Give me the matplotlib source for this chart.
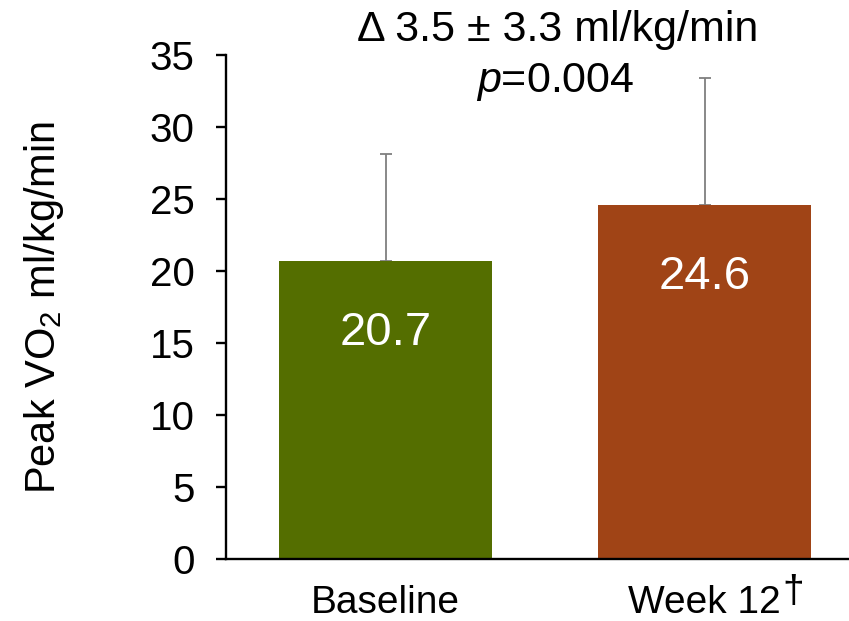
import matplotlib
matplotlib.use("Agg")
import matplotlib.pyplot as plt

plt.rcParams['font.family'] = ['Liberation Sans', 'DejaVu Sans']
plt.rcParams['mathtext.fontset'] = 'custom'
plt.rcParams['mathtext.rm'] = 'Liberation Sans'
plt.rcParams['mathtext.it'] = 'Liberation Sans:italic'

# donnees
groupes = ['Baseline', 'Week 12']
moyennes = [20.7, 24.6]
ecarts = [7.4, 8.8]
couleurs = ['#546E00', '#A04416']
etiquettes = ['20.7', '24.6']

fig = plt.figure(figsize=(8.49, 6.21), dpi=100)
ax = fig.add_axes([0.2662, 0.0998, 0.7515, 0.8116])

x = [0, 1]
ax.bar(x, moyennes, width=0.668, color=couleurs, zorder=2)
ax.errorbar(x, moyennes, yerr=[[0, 0], ecarts], fmt='none', ecolor='#7F7F7F',
            elinewidth=1.3, capsize=4.5, capthick=1.3, zorder=1)

for i in range(len(x)):
    ax.text(x[i], moyennes[i] - 5, etiquettes[i], color='white', fontsize=34,
            ha='center', va='center', zorder=3)

ax.set_xlim(-0.5, 1.5)
ax.set_ylim(0, 35)
ax.set_yticks(range(0, 36, 5))
ax.set_xticks(x)
ax.set_xticklabels(groupes, fontsize=28)
ax.tick_params(axis='x', length=0, pad=19)
ax.tick_params(axis='y', labelsize=29, length=7, width=1.7, pad=15.5)
ax.spines['top'].set_visible(False)
ax.spines['right'].set_visible(False)
ax.spines['left'].set_linewidth(1.7)
ax.spines['bottom'].set_linewidth(1.7)

ax.set_ylabel('Peak VO$_\\mathregular{2}$ ml/kg/min', fontsize=30, labelpad=60)

fig.text(0.657, 0.952, 'Δ 3.5 ± 3.3 ml/kg/min', fontsize=31, ha='center', va='center')
fig.text(0.654, 0.868, '$\\it{p}$=0.004', fontsize=31, ha='center', va='center')

# la croix apres "Week 12"
fig.canvas.draw()
bb = ax.get_xticklabels()[1].get_window_extent()
fig.text((bb.x1 + 1) / fig.bbox.width, (bb.y1 + 11) / fig.bbox.height, '†',
         fontsize=28, ha='left', va='top')

plt.savefig('out.png', dpi=100)
plt.close()
